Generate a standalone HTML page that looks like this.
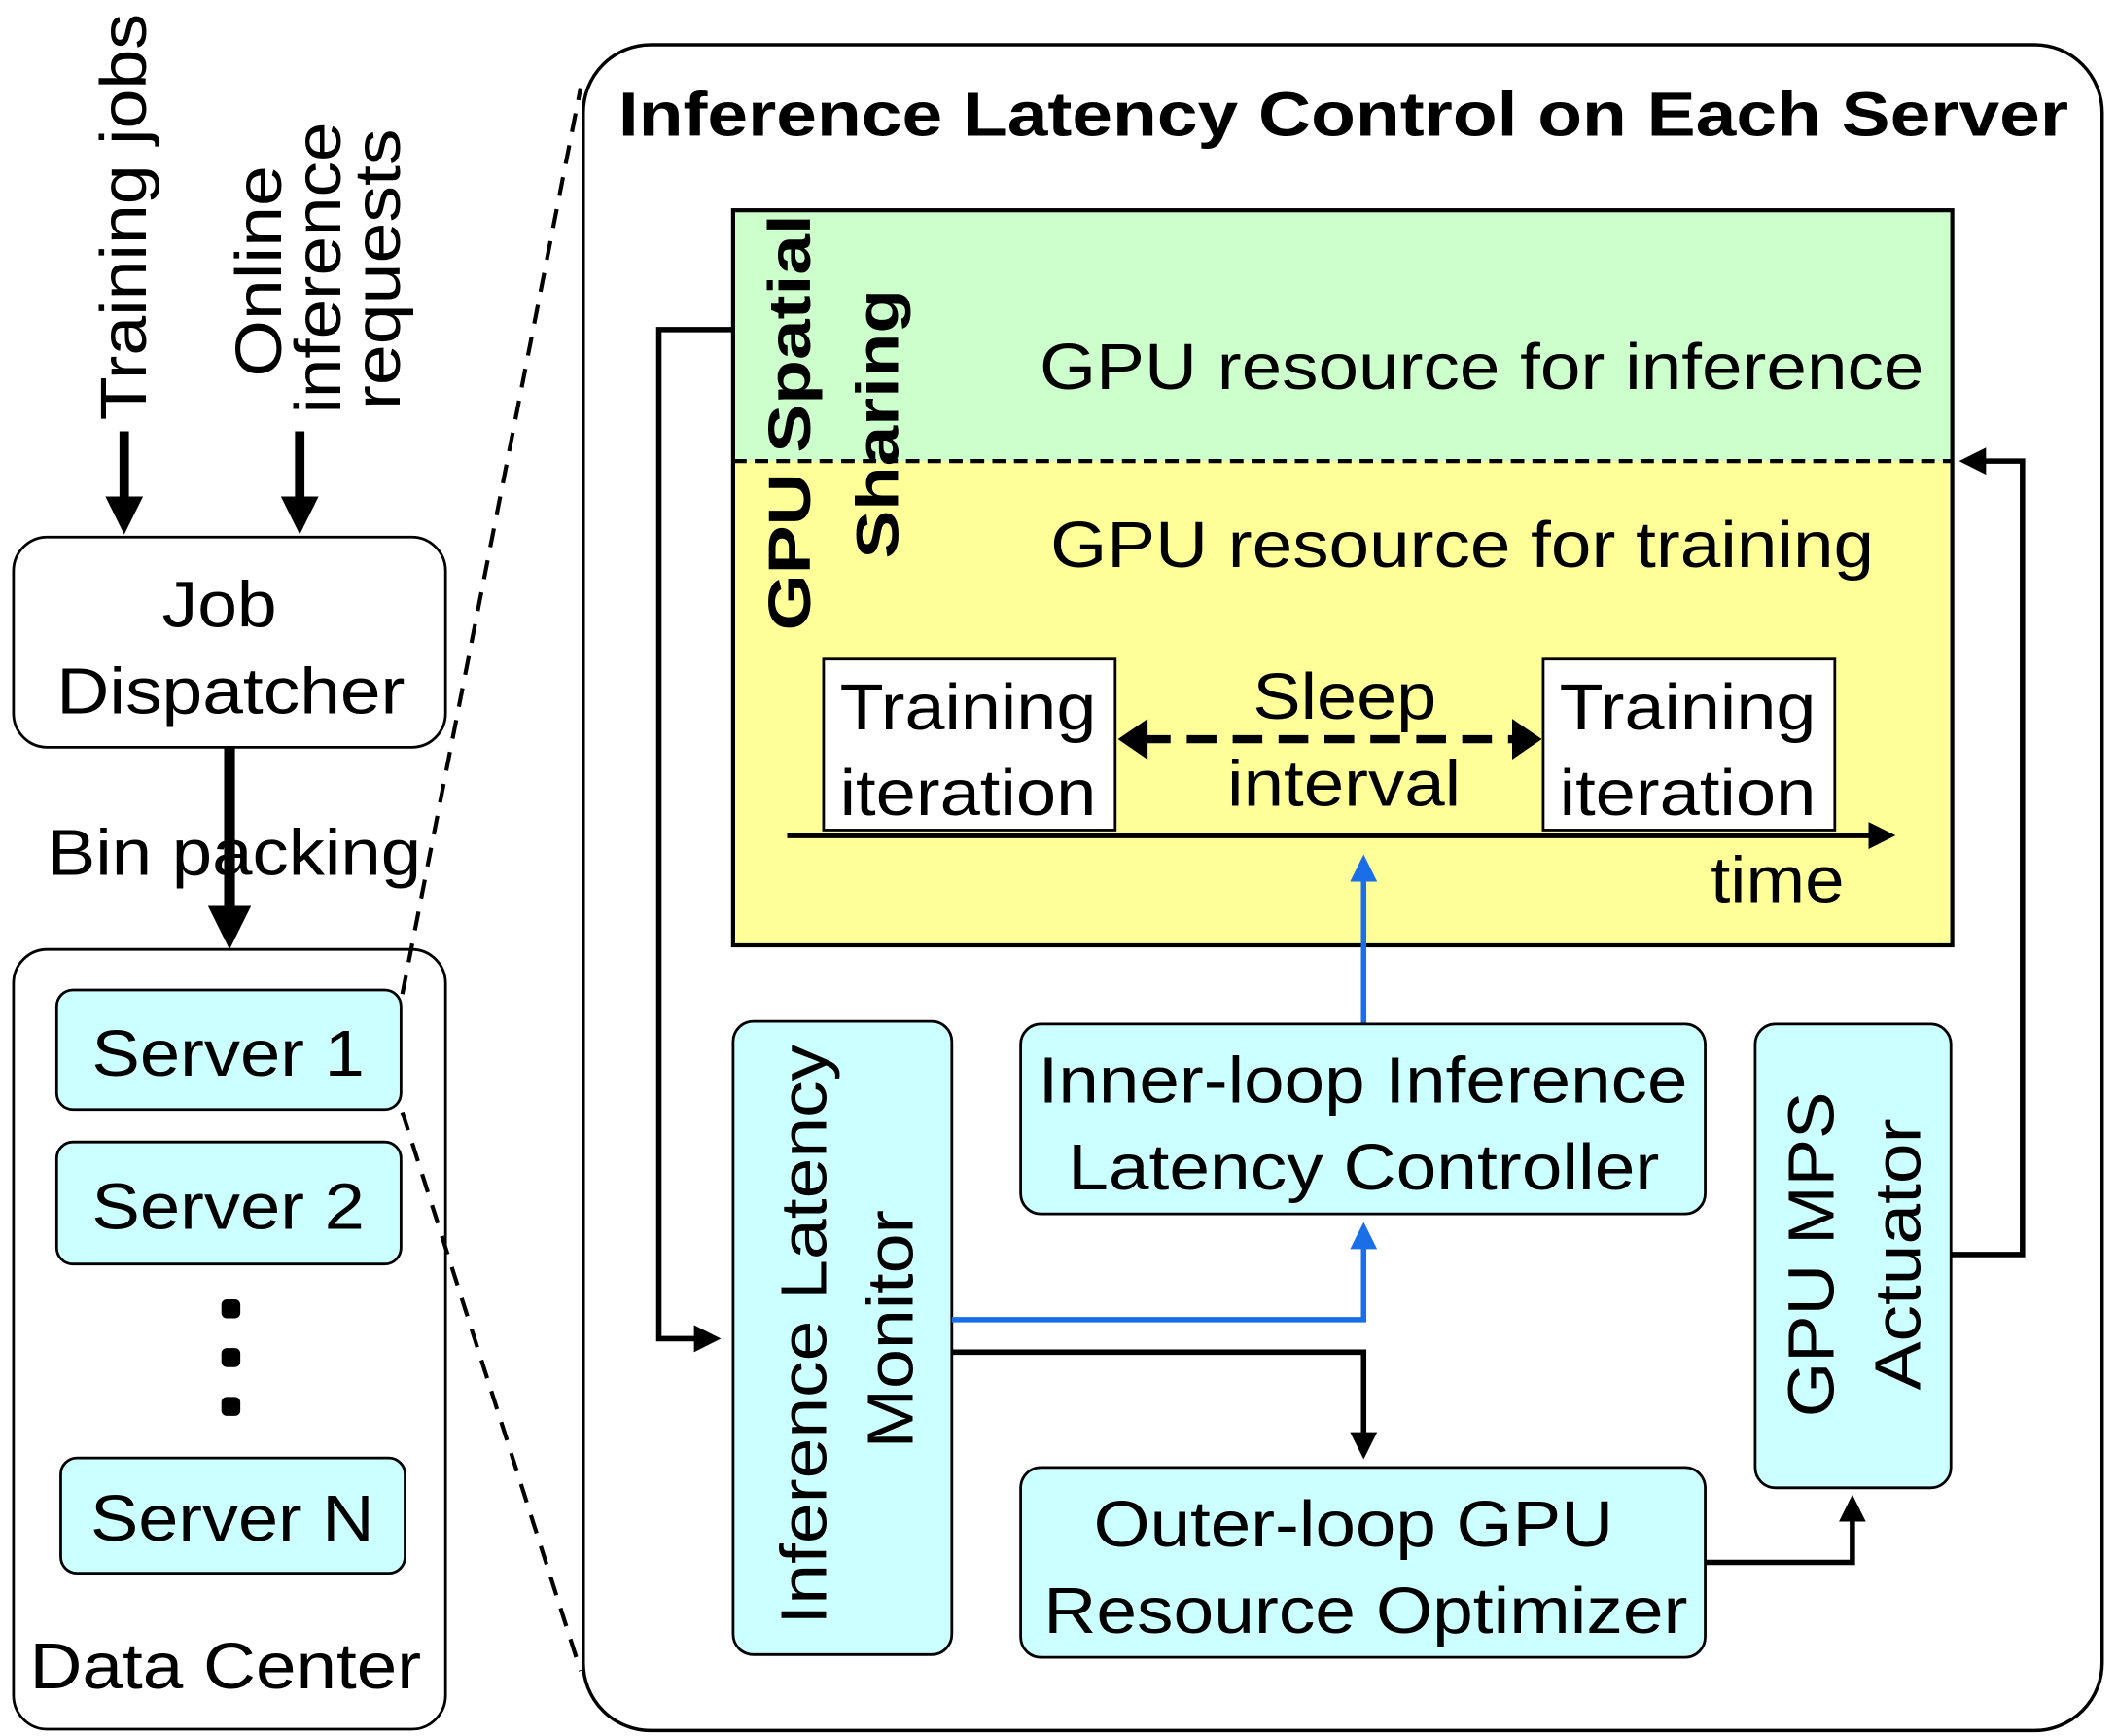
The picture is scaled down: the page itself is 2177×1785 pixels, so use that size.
<!DOCTYPE html>
<html><head><meta charset="utf-8"><style>html,body{margin:0;padding:0;background:#fff}svg{display:block}</style></head>
<body>
<svg width="2177" height="1785" viewBox="0 0 1568 1280" preserveAspectRatio="none" xmlns="http://www.w3.org/2000/svg" font-family="Liberation Sans, Arial, sans-serif">
<defs>
<marker id="ah" markerWidth="4" markerHeight="4" refX="2" refY="2" orient="auto" markerUnits="strokeWidth"><path d="M0,0 L4,2 L0,4 z" fill="#000"/></marker>
<marker id="as" markerWidth="5" markerHeight="5" refX="4" refY="2.5" orient="auto" markerUnits="strokeWidth"><path d="M0,0 L5,2.5 L0,5 z" fill="#000"/></marker>
<marker id="ab" markerWidth="5" markerHeight="5" refX="4" refY="2.5" orient="auto" markerUnits="strokeWidth"><path d="M0,0 L5,2.5 L0,5 z" fill="#1a6fe8"/></marker>
</defs>
<g lengthAdjust="spacingAndGlyphs">
<text transform="translate(108,310) rotate(-90)" font-size="48" textLength="300" lengthAdjust="spacingAndGlyphs">Training jobs</text>
<text transform="translate(208,278) rotate(-90)" font-size="48" textLength="156" lengthAdjust="spacingAndGlyphs">Online</text>
<text transform="translate(252,305) rotate(-90)" font-size="48" textLength="215" lengthAdjust="spacingAndGlyphs">inference</text>
<text transform="translate(296,302) rotate(-90)" font-size="48" textLength="207" lengthAdjust="spacingAndGlyphs">requests</text>
</g>
<line x1="92" y1="318" x2="92" y2="380" stroke="#000" stroke-width="7" marker-end="url(#ah)"/>
<line x1="222" y1="318" x2="222" y2="380" stroke="#000" stroke-width="7" marker-end="url(#ah)"/>
<rect x="10" y="396" width="320" height="155" rx="25" fill="#fff" stroke="#000" stroke-width="2"/>
<text x="120" y="462" font-size="48" textLength="85" lengthAdjust="spacingAndGlyphs">Job</text>
<text x="42" y="526" font-size="48" textLength="258" lengthAdjust="spacingAndGlyphs">Dispatcher</text>
<line x1="170" y1="551" x2="170" y2="684" stroke="#000" stroke-width="8" marker-end="url(#ah)"/>
<text x="35" y="645" font-size="48" textLength="277" lengthAdjust="spacingAndGlyphs">Bin packing</text>
<rect x="10" y="700" width="320" height="575" rx="25" fill="none" stroke="#000" stroke-width="2"/>
<rect x="42" y="730" width="255" height="88" rx="12" fill="#ccffff" stroke="#000" stroke-width="2"/>
<text x="68" y="793" font-size="48" textLength="202" lengthAdjust="spacingAndGlyphs">Server 1</text>
<rect x="42" y="842" width="255" height="90" rx="12" fill="#ccffff" stroke="#000" stroke-width="2"/>
<text x="68" y="906" font-size="48" textLength="202" lengthAdjust="spacingAndGlyphs">Server 2</text>
<rect x="164" y="958" width="14" height="14" rx="4"/>
<rect x="164" y="994" width="14" height="14" rx="4"/>
<rect x="164" y="1030" width="14" height="14" rx="4"/>
<rect x="45" y="1075" width="255" height="85" rx="12" fill="#ccffff" stroke="#000" stroke-width="2"/>
<text x="67" y="1136" font-size="48" textLength="210" lengthAdjust="spacingAndGlyphs">Server N</text>
<text x="22" y="1245" font-size="48" textLength="290" lengthAdjust="spacingAndGlyphs">Data Center</text>
<line x1="298" y1="733" x2="430" y2="65" stroke="#000" stroke-width="3" stroke-dasharray="14,10"/>
<line x1="298" y1="820" x2="430" y2="1232" stroke="#000" stroke-width="3" stroke-dasharray="14,10"/>
<rect x="432" y="33" width="1125" height="1243" rx="50" fill="#fff" stroke="#000" stroke-width="2.5"/>
<text x="458" y="100" font-size="46" font-weight="bold" textLength="1074" lengthAdjust="spacingAndGlyphs">Inference Latency Control on Each Server</text>
<rect x="543" y="155" width="903" height="185" fill="#ccffcc"/>
<rect x="543" y="340" width="903" height="357" fill="#ffff99"/>
<rect x="543" y="155" width="903" height="542" fill="none" stroke="#000" stroke-width="3"/>
<line x1="543" y1="340" x2="1446" y2="340" stroke="#000" stroke-width="3" stroke-dasharray="10,6"/>
<text transform="translate(600,465) rotate(-90)" font-size="44" font-weight="bold" textLength="307" lengthAdjust="spacingAndGlyphs">GPU Spatial</text>
<text transform="translate(665,412) rotate(-90)" font-size="44" font-weight="bold" textLength="199" lengthAdjust="spacingAndGlyphs">Sharing</text>
<text x="770" y="287" font-size="48" textLength="655" lengthAdjust="spacingAndGlyphs">GPU resource for inference</text>
<text x="778" y="418" font-size="48" textLength="610" lengthAdjust="spacingAndGlyphs">GPU resource for training</text>
<rect x="610" y="486" width="216" height="126" fill="#fff" stroke="#000" stroke-width="2"/>
<text x="622" y="538" font-size="48" textLength="190" lengthAdjust="spacingAndGlyphs">Training</text>
<text x="622" y="601" font-size="48" textLength="190" lengthAdjust="spacingAndGlyphs">iteration</text>
<rect x="1143" y="486" width="216" height="126" fill="#fff" stroke="#000" stroke-width="2"/>
<text x="1155" y="538" font-size="48" textLength="190" lengthAdjust="spacingAndGlyphs">Training</text>
<text x="1155" y="601" font-size="48" textLength="190" lengthAdjust="spacingAndGlyphs">iteration</text>
<text x="928" y="530" font-size="48" textLength="136" lengthAdjust="spacingAndGlyphs">Sleep</text>
<text x="909" y="594" font-size="48" textLength="173" lengthAdjust="spacingAndGlyphs">interval</text>
<line x1="845" y1="545" x2="1125" y2="545" stroke="#000" stroke-width="6" stroke-dasharray="22,12"/>
<path d="M828,545 L850,530 L850,560 z"/>
<path d="M1142,545 L1120,530 L1120,560 z"/>
<line x1="583" y1="616" x2="1400" y2="616" stroke="#000" stroke-width="4" marker-end="url(#as)"/>
<text x="1267" y="665" font-size="48" textLength="99" lengthAdjust="spacingAndGlyphs">time</text>
<line x1="1010" y1="755" x2="1010" y2="634" stroke="#1a6fe8" stroke-width="4" marker-end="url(#ab)"/>
<rect x="543" y="753" width="162" height="467" rx="15" fill="#ccffff" stroke="#000" stroke-width="2"/>
<text transform="translate(612,1198) rotate(-90)" font-size="48" textLength="428" lengthAdjust="spacingAndGlyphs">Inference Latency</text>
<text transform="translate(676,1068) rotate(-90)" font-size="48" textLength="176" lengthAdjust="spacingAndGlyphs">Monitor</text>
<rect x="756" y="755" width="507" height="140" rx="15" fill="#ccffff" stroke="#000" stroke-width="2"/>
<text x="769" y="813" font-size="48" textLength="481" lengthAdjust="spacingAndGlyphs">Inner-loop Inference</text>
<text x="791" y="877" font-size="48" textLength="438" lengthAdjust="spacingAndGlyphs">Latency Controller</text>
<rect x="1300" y="755" width="145" height="342" rx="15" fill="#ccffff" stroke="#000" stroke-width="2"/>
<text transform="translate(1358,1045) rotate(-90)" font-size="48" textLength="240" lengthAdjust="spacingAndGlyphs">GPU MPS</text>
<text transform="translate(1422,1025) rotate(-90)" font-size="48" textLength="200" lengthAdjust="spacingAndGlyphs">Actuator</text>
<rect x="756" y="1082" width="507" height="140" rx="15" fill="#ccffff" stroke="#000" stroke-width="2"/>
<text x="810" y="1140" font-size="48" textLength="385" lengthAdjust="spacingAndGlyphs">Outer-loop GPU</text>
<text x="773" y="1204" font-size="48" textLength="477" lengthAdjust="spacingAndGlyphs">Resource Optimizer</text>
<polyline points="543,243 488,243 488,987 530,987" fill="none" stroke="#000" stroke-width="4" marker-end="url(#as)"/>
<polyline points="705,973 1010,973 1010,905" fill="none" stroke="#1a6fe8" stroke-width="4" marker-end="url(#ab)"/>
<polyline points="705,997 1010,997 1010,1072" fill="none" stroke="#000" stroke-width="4" marker-end="url(#as)"/>
<polyline points="1263,1152 1372,1152 1372,1106" fill="none" stroke="#000" stroke-width="4" marker-end="url(#as)"/>
<polyline points="1445,925 1498,925 1498,340 1455,340" fill="none" stroke="#000" stroke-width="4" marker-end="url(#as)"/>
</svg>
</body></html>
